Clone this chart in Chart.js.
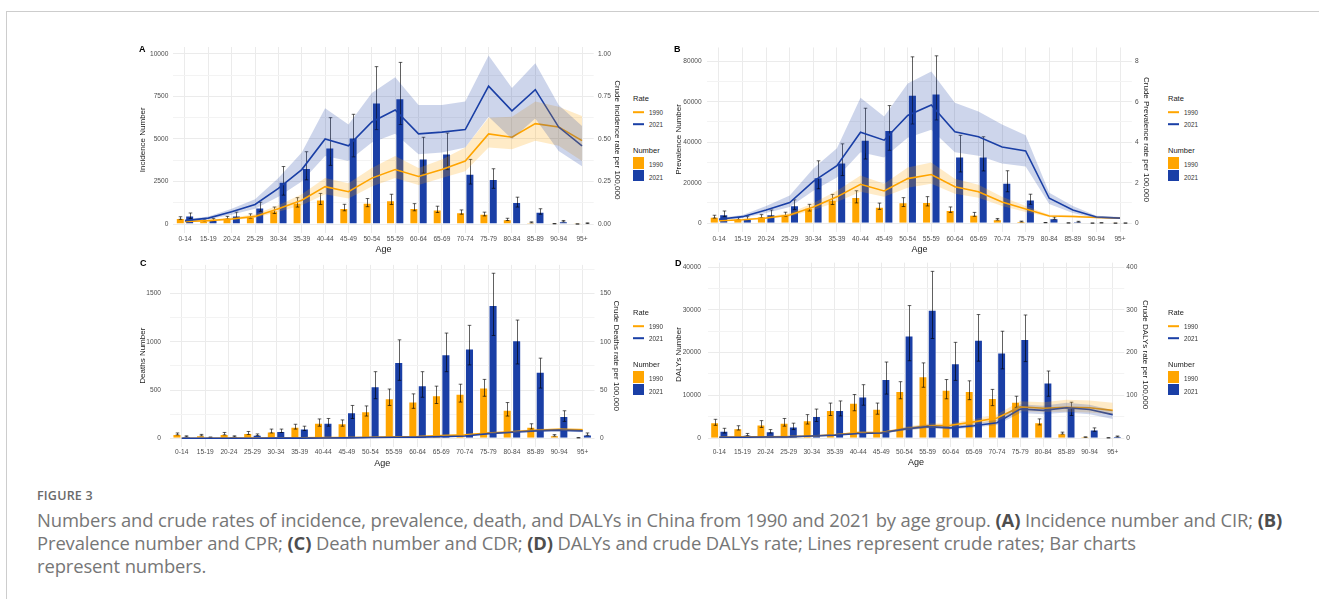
<!DOCTYPE html>
<html>
<head>
<meta charset="utf-8">
<title>Numbers and crude rates by age group</title>
<script src="https://cdn.jsdelivr.net/npm/chart.js@4.4.1/dist/chart.umd.min.js"></script>
<style>
  html, body { margin: 0; padding: 0; background: #fff; }
  body { width: 1319px; height: 599px; position: relative; overflow: hidden; font-family: "Liberation Sans", Arial, sans-serif; }
  .rule-top { position: absolute; left: 6px; top: 11px; width: 1313px; height: 1px; background: #cdcdcd; }
  .rule-left { position: absolute; left: 6px; top: 11px; width: 1px; height: 588px; background: #cdcdcd; }
  canvas { position: absolute; }
  .tag { position: absolute; font-weight: bold; font-size: 9px; line-height: 9px; color: #000; transform: translateY(-50%); }
  .lg { position: absolute; }
  .lg .hd { position: absolute; left: 0; font-size: 7.5px; line-height: 8px; color: #1a1a1a; transform: translateY(-50%); white-space: nowrap; }
  .lg .tx { position: absolute; font-size: 6.3px; line-height: 7px; color: #333; transform: translateY(-50%); white-space: nowrap; }
  .lg .ln { position: absolute; left: 0; width: 11px; height: 1.6px; transform: translateY(-50%); }
  .lg .sq { position: absolute; left: 0; width: 11.3px; height: 11.4px; }
  .figno { position: absolute; left: 37px; top: 487px; font-family: "Open Sans", "Noto Sans", sans-serif; font-size: 12.5px; font-weight: 600; letter-spacing: 0.2px; color: #6a6a6a; }
  .caption { position: absolute; left: 37px; top: 508px; width: 1275px; font-family: "Open Sans", "Noto Sans", sans-serif; font-size: 18.4px; line-height: 23px; color: #767676; white-space: nowrap; letter-spacing: -0.1px; }
  .caption b { color: #4e4e4e; font-weight: 700; }
</style>
</head>
<body>
<div class="rule-top"></div>
<div class="rule-left"></div>

<script>
// ---- categories ----
const ageGroups = ['0-14','15-19','20-24','25-29','30-34','35-39','40-44','45-49','50-54','55-59','60-64','65-69','70-74','75-79','80-84','85-89','90-94','95+'];
const years = ['1990', '2021'];

// ---- (A) incidence ----
const incidence1990   = [350, 210, 370, 450, 800, 1250, 1450, 950, 1250, 1400, 950, 850, 700, 600, 280, 100, 20, 5];
const incidence1990Lo = [280, 165, 300, 350, 620, 1000, 1150, 780, 1020, 1150, 780, 680, 580, 480, 210, 75, 12, 2];
const incidence1990Hi = [430, 250, 450, 600, 1000, 1550, 1800, 1160, 1500, 1750, 1200, 1050, 830, 700, 340, 130, 30, 8];
const incidence2021   = [500, 250, 500, 980, 2480, 3300, 4500, 5080, 7150, 7400, 3850, 4150, 2950, 2650, 1300, 730, 170, 50];
const incidence2021Lo = [330, 190, 370, 750, 1700, 2600, 3450, 3950, 5550, 5850, 3000, 3200, 2350, 2100, 1000, 580, 130, 30];
const incidence2021Hi = [650, 320, 700, 1280, 3380, 4250, 6250, 6450, 9250, 9500, 5100, 5350, 3800, 3250, 1580, 900, 210, 70];
const incRate1990   = [0.015, 0.02, 0.03, 0.045, 0.09, 0.14, 0.22, 0.19, 0.27, 0.32, 0.28, 0.32, 0.37, 0.53, 0.51, 0.59, 0.57, 0.49];
const incRate1990Lo = [0.011, 0.015, 0.024, 0.036, 0.072, 0.11, 0.175, 0.15, 0.22, 0.27, 0.23, 0.27, 0.31, 0.45, 0.44, 0.49, 0.46, 0.37];
const incRate1990Hi = [0.02, 0.026, 0.038, 0.057, 0.11, 0.175, 0.27, 0.24, 0.33, 0.40, 0.33, 0.38, 0.45, 0.625, 0.63, 0.72, 0.69, 0.635];
const incRate2021   = [0.02, 0.035, 0.072, 0.115, 0.21, 0.32, 0.50, 0.46, 0.60, 0.67, 0.53, 0.54, 0.555, 0.81, 0.665, 0.79, 0.57, 0.46];
const incRate2021Lo = [0.015, 0.028, 0.055, 0.09, 0.16, 0.25, 0.40, 0.37, 0.48, 0.53, 0.41, 0.42, 0.45, 0.63, 0.50, 0.62, 0.43, 0.34];
const incRate2021Hi = [0.027, 0.045, 0.09, 0.146, 0.27, 0.42, 0.68, 0.585, 0.77, 0.863, 0.70, 0.70, 0.72, 0.99, 0.80, 0.945, 0.70, 0.576];

// ---- (B) prevalence ----
const prevalence1990   = [3100, 2200, 3300, 4100, 7600, 11500, 12900, 8100, 10300, 10400, 6500, 4200, 1900, 800, 250, 100, 20, 5];
const prevalence1990Lo = [2500, 1800, 2700, 3300, 6000, 9200, 10000, 6800, 8200, 8500, 5300, 3400, 1500, 600, 180, 70, 12, 2];
const prevalence1990Hi = [3900, 2700, 4200, 5400, 9300, 14200, 16000, 9900, 12600, 13100, 8000, 5300, 2300, 1000, 320, 130, 30, 8];
const prevalence2021   = [4400, 2200, 4400, 8900, 22700, 30000, 41200, 46000, 63500, 64100, 32900, 32900, 20000, 11700, 2400, 700, 150, 30];
const prevalence2021Lo = [3200, 1700, 3300, 6800, 17000, 23500, 31700, 36000, 49000, 51000, 25300, 25800, 15500, 9300, 1900, 500, 110, 20];
const prevalence2021Hi = [6000, 3200, 6500, 11500, 30800, 39200, 56800, 58100, 82200, 82700, 43400, 42700, 25900, 14300, 3000, 900, 190, 45];
const prevRate1990   = [0.12, 0.17, 0.25, 0.4, 0.8, 1.3, 1.92, 1.59, 2.2, 2.4, 1.8, 1.55, 1.05, 0.7, 0.35, 0.33, 0.28, 0.25];
const prevRate1990Lo = [0.1, 0.14, 0.2, 0.33, 0.65, 1.05, 1.55, 1.3, 1.75, 1.95, 1.45, 1.25, 0.85, 0.55, 0.3, 0.28, 0.24, 0.2];
const prevRate1990Hi = [0.15, 0.21, 0.31, 0.5, 1.0, 1.6, 2.35, 1.95, 2.75, 3.0, 2.2, 1.9, 1.3, 0.85, 0.42, 0.4, 0.32, 0.3];
const prevRate2021   = [0.19, 0.32, 0.65, 1.02, 2.06, 2.84, 4.49, 4.1, 5.32, 5.84, 4.51, 4.27, 3.76, 3.57, 1.23, 0.65, 0.3, 0.25];
const prevRate2021Lo = [0.15, 0.25, 0.5, 0.8, 1.6, 2.25, 3.5, 3.25, 4.22, 4.62, 3.5, 3.33, 2.95, 2.8, 0.95, 0.5, 0.24, 0.2];
const prevRate2021Hi = [0.25, 0.4, 0.85, 1.36, 2.7, 3.7, 6.2, 5.27, 6.9, 7.5, 5.95, 5.52, 4.87, 4.35, 1.5, 0.85, 0.37, 0.3];

// ---- (C) deaths ----
const deaths1990   = [45, 30, 45, 55, 70, 120, 160, 155, 280, 415, 380, 445, 460, 525, 295, 120, 30, 5];
const deaths1990Lo = [35, 25, 35, 40, 55, 95, 125, 125, 230, 340, 310, 360, 375, 435, 230, 95, 22, 3];
const deaths1990Hi = [55, 40, 60, 70, 95, 145, 200, 190, 335, 510, 460, 540, 560, 610, 370, 150, 38, 7];
const deaths2021   = [20, 10, 20, 35, 75, 100, 160, 270, 540, 790, 550, 870, 930, 1380, 1015, 690, 230, 40];
const deaths2021Lo = [15, 8, 15, 28, 60, 80, 125, 205, 410, 600, 425, 690, 760, 1065, 770, 520, 175, 30];
const deaths2021Hi = [25, 13, 25, 45, 95, 125, 205, 340, 690, 1020, 690, 1090, 1170, 1710, 1225, 830, 285, 55];
const deathRate1990   = [0.05, 0.05, 0.1, 0.15, 0.2, 0.4, 0.6, 0.7, 1.0, 1.6, 1.8, 2.8, 3.5, 5.5, 6.8, 8.3, 9.2, 8.8];
const deathRate1990Lo = [0.04, 0.04, 0.08, 0.12, 0.16, 0.32, 0.5, 0.58, 0.8, 1.3, 1.5, 2.3, 2.9, 4.6, 5.7, 7.0, 7.7, 7.2];
const deathRate1990Hi = [0.06, 0.06, 0.12, 0.18, 0.24, 0.48, 0.7, 0.82, 1.2, 1.9, 2.1, 3.3, 4.1, 6.4, 7.9, 9.6, 10.7, 10.4];
const deathRate2021   = [0.02, 0.02, 0.03, 0.05, 0.1, 0.15, 0.3, 0.4, 0.7, 1.0, 1.2, 1.7, 2.3, 4.8, 6.2, 7.6, 8.4, 7.6];
const deathRate2021Lo = [0.01, 0.01, 0.02, 0.04, 0.08, 0.12, 0.25, 0.32, 0.55, 0.8, 1.0, 1.4, 1.9, 4.1, 5.3, 6.5, 7.0, 6.1];
const deathRate2021Hi = [0.03, 0.03, 0.04, 0.06, 0.12, 0.18, 0.35, 0.48, 0.85, 1.2, 1.4, 2.0, 2.7, 5.6, 7.1, 8.7, 9.5, 8.9];

// ---- (D) DALYs ----
const dalys1990   = [3700, 2300, 3200, 3600, 4200, 6600, 8300, 6900, 11000, 14500, 11300, 11000, 9400, 8500, 3700, 1150, 250, 80];
const dalys1990Lo = [3000, 1900, 2500, 2800, 3300, 5300, 6400, 5600, 9200, 11900, 9200, 9000, 7600, 7200, 3100, 950, 200, 50];
const dalys1990Hi = [4400, 2900, 4100, 4600, 5500, 8200, 10200, 8200, 13200, 17600, 13700, 13400, 11400, 9800, 4500, 1400, 300, 100];
const dalys2021   = [1750, 800, 1600, 2700, 5150, 6600, 9750, 13850, 24000, 30000, 17500, 23000, 20000, 23200, 13000, 7100, 2000, 400];
const dalys2021Lo = [1200, 600, 1200, 2000, 3900, 5200, 7700, 10300, 18100, 23300, 13500, 18000, 16200, 17900, 9800, 5300, 1600, 300];
const dalys2021Hi = [2300, 1100, 2000, 3500, 6800, 8700, 12500, 17800, 31000, 39000, 22400, 28900, 25000, 28800, 15700, 8400, 2400, 500];
const dalyRate1990   = [2, 3, 3, 3.5, 5, 8, 13, 13, 22, 29, 30, 38, 47, 73, 70, 72, 71, 65];
const dalyRate1990Lo = [1.5, 2.5, 2.5, 3, 4, 6.5, 11, 11, 18, 24, 25, 32, 40, 63, 61, 62, 60, 55];
const dalyRate1990Hi = [2.5, 3.5, 3.5, 4.5, 6, 9.5, 15, 15, 26, 34, 35, 44, 55, 86, 84, 90, 88, 83];
const dalyRate2021   = [2, 2, 2.5, 3, 5, 7, 11, 12, 21, 27, 24, 29, 36, 68, 65, 71, 67, 55];
const dalyRate2021Lo = [1.5, 1.5, 2, 2.5, 4, 6, 9, 10, 18, 23, 20, 25, 31, 59, 56, 60, 56, 45];
const dalyRate2021Hi = [2.5, 2.5, 3, 3.5, 6, 8.5, 13, 14, 25, 32, 28, 34, 43, 79, 76, 83, 78, 65];

// ---- axis ticks ----
const incTicks = [0, 2500, 5000, 7500, 10000];
const incMinor = [1250, 3750, 6250, 8750];
const incRateTicks = [0, 0.25, 0.5, 0.75, 1.0];
const incRateLabels = ['0.00', '0.25', '0.50', '0.75', '1.00'];
const prevTicks = [0, 20000, 40000, 60000, 80000];
const prevMinor = [10000, 30000, 50000, 70000];
const prevRateTicks = [0, 2, 4, 6, 8];
const prevRateLabels = ['0', '2', '4', '6', '8'];
const deathTicks = [0, 500, 1000, 1500];
const deathMinor = [250, 750, 1250, 1750];
const deathRateTicks = [0, 50, 100, 150];
const deathRateLabels = ['0', '50', '100', '150'];
const dalyTicks = [0, 10000, 20000, 30000, 40000];
const dalyMinor = [5000, 15000, 25000, 35000];
const dalyRateTicks = [0, 100, 200, 300, 400];
const dalyRateLabels = ['0', '100', '200', '300', '400'];

// ---- styling ----
const ORANGE = '#FFA500';
const BLUE = '#1A3FA6';
const ORANGE_BAND = 'rgba(255,165,0,0.22)';
const BLUE_BAND = 'rgba(26,63,166,0.22)';
const TICK_COLOR = '#4d4d4d';
const GRID_MAJOR = '#ebebeb';
const GRID_MINOR = '#f3f3f3';
const FONT = '"Liberation Sans", Arial, sans-serif';

// error bars are drawn right after each bar dataset, using the chart's own y scale
const errorBarPlugin = {
  id: 'errorBars',
  afterDatasetDraw(chart, args) {
    const ds = chart.data.datasets[args.index];
    if (!ds.errLow) return;
    const ctx = chart.ctx;
    const y = chart.scales[ds.yAxisID || 'y'];
    const cap = 1.8;
    ctx.save();
    ctx.strokeStyle = 'rgba(0,0,0,0.62)';
    ctx.lineWidth = 1;
    args.meta.data.forEach((bar, i) => {
      const top = y.getPixelForValue(ds.errHigh[i]);
      const bot = y.getPixelForValue(ds.errLow[i]);
      const x = Math.round(bar.x) + 0.5;
      ctx.beginPath();
      ctx.moveTo(x, top); ctx.lineTo(x, bot);
      ctx.moveTo(x - cap, top); ctx.lineTo(x + cap, top);
      ctx.moveTo(x - cap, bot); ctx.lineTo(x + cap, bot);
      ctx.stroke();
    });
    ctx.restore();
  }
};

function buildPanel(p) {
  const c = p.canvas, g = p.geom;
  const cv = document.createElement('canvas');
  cv.width = c.w; cv.height = c.h;
  cv.style.left = c.x + 'px'; cv.style.top = c.y + 'px';
  cv.style.width = c.w + 'px'; cv.style.height = c.h + 'px';
  document.body.appendChild(cv);

  const vTitleSize = 8, xTitleSize = 9, tickSize = 6.6;
  const leftEdge = g.leftTitleX - vTitleSize * 0.6;
  const rightEdge = g.rightTitleX + vTitleSize * 0.6;
  const bottomEdge = g.xTitleY + xTitleSize * 0.6;
  const wl = g.left - leftEdge, wr = rightEdge - g.right, hx = bottomEdge - g.bottom;

  const yTicks = p.ticks.concat(p.minor).sort((a, b) => a - b);
  const bars = p.bars, rates = p.rates;

  // bar slots follow ascending "order": 1990 sits left of 2021
  const datasets = [
    { type: 'bar', label: years[0], data: bars[0].v, errLow: bars[0].lo, errHigh: bars[0].hi, yAxisID: 'y',
      backgroundColor: ORANGE, borderColor: 'rgba(255,255,255,0.35)', borderWidth: 1, order: 19,
      categoryPercentage: 0.8, barPercentage: 0.96 },
    { type: 'bar', label: years[1], data: bars[1].v, errLow: bars[1].lo, errHigh: bars[1].hi, yAxisID: 'y',
      backgroundColor: BLUE, borderColor: 'rgba(255,255,255,0.35)', borderWidth: 1, order: 20,
      categoryPercentage: 0.8, barPercentage: 0.96 },
    { type: 'line', label: years[0] + ' rate', data: rates[0].v, yAxisID: 'y1', borderColor: ORANGE, borderWidth: 1.6,
      pointRadius: 0, tension: 0, fill: false, order: 11 },
    { type: 'line', label: years[1] + ' rate', data: rates[1].v, yAxisID: 'y1', borderColor: BLUE, borderWidth: 1.6,
      pointRadius: 0, tension: 0, fill: false, order: 10 },
    { type: 'line', label: years[0] + ' lower', data: rates[0].lo, yAxisID: 'y1', borderWidth: 0, borderColor: 'rgba(0,0,0,0)',
      pointRadius: 0, tension: 0, fill: false, order: 6 },
    { type: 'line', label: years[0] + ' upper', data: rates[0].hi, yAxisID: 'y1', borderWidth: 0, borderColor: 'rgba(0,0,0,0)',
      pointRadius: 0, tension: 0, fill: '-1', backgroundColor: ORANGE_BAND, order: 5 },
    { type: 'line', label: years[1] + ' lower', data: rates[1].lo, yAxisID: 'y1', borderWidth: 0, borderColor: 'rgba(0,0,0,0)',
      pointRadius: 0, tension: 0, fill: false, order: 4 },
    { type: 'line', label: years[1] + ' upper', data: rates[1].hi, yAxisID: 'y1', borderWidth: 0, borderColor: 'rgba(0,0,0,0)',
      pointRadius: 0, tension: 0, fill: '-1', backgroundColor: BLUE_BAND, order: 3 }
  ];

  new Chart(cv, {
    type: 'bar',
    data: { labels: ageGroups, datasets },
    plugins: [errorBarPlugin],
    options: {
      responsive: false,
      animation: false,
      devicePixelRatio: 1,
      layout: { padding: { left: leftEdge - c.x, right: c.x + c.w - rightEdge, top: g.top - c.y, bottom: c.y + c.h - bottomEdge } },
      plugins: { legend: { display: false }, tooltip: { enabled: false } },
      scales: {
        x: {
          type: 'category', offset: true,
          grid: { offset: false, color: GRID_MAJOR, lineWidth: 1, drawTicks: false },
          border: { display: false },
          ticks: { font: { family: FONT, size: tickSize }, color: TICK_COLOR, padding: g.xTickPad, autoSkip: false, maxRotation: 0 },
          title: { display: true, text: 'Age', font: { family: FONT, size: xTitleSize }, color: '#1a1a1a', padding: 0 },
          afterFit(s) { s.height = hx; }
        },
        y: {
          type: 'linear', position: 'left', min: p.yMin, max: p.yMax,
          afterBuildTicks(s) { s.ticks = yTicks.map(v => ({ value: v })); },
          grid: {
            drawTicks: false,
            color: ctx => (ctx.tick && p.minor.includes(ctx.tick.value)) ? GRID_MINOR : GRID_MAJOR,
            lineWidth: 1
          },
          border: { display: false },
          ticks: {
            font: { family: FONT, size: tickSize }, color: TICK_COLOR, padding: g.leftTickPad, autoSkip: false,
            callback: v => p.ticks.includes(v) ? String(v) : ''
          },
          title: { display: true, text: p.leftTitle, font: { family: FONT, size: vTitleSize }, color: '#1a1a1a', padding: 0 },
          afterFit(s) { s.width = wl; }
        },
        y1: {
          type: 'linear', position: 'right', min: p.yMin / p.ratio, max: p.yMax / p.ratio,
          afterBuildTicks(s) { s.ticks = p.rightTicks.map(v => ({ value: v })); },
          grid: { drawOnChartArea: false, drawTicks: false },
          border: { display: false },
          ticks: {
            font: { family: FONT, size: tickSize }, color: TICK_COLOR, padding: g.rightTickPad, autoSkip: false,
            callback: (v, i) => p.rightLabels[i]
          },
          title: { display: true, text: p.rightTitle, font: { family: FONT, size: vTitleSize }, color: '#1a1a1a', padding: 0 },
          afterFit(s) { s.width = wr; }
        }
      }
    }
  });

  // panel letter
  const tag = document.createElement('div');
  tag.className = 'tag';
  tag.textContent = p.tag;
  tag.style.left = p.tagPos[0] + 'px';
  tag.style.top = p.tagPos[1] + 'px';
  document.body.appendChild(tag);

  // legend: Rate (lines) and Number (filled keys)
  const lg = document.createElement('div');
  lg.className = 'lg';
  lg.style.left = p.legendPos[0] + 'px';
  lg.style.top = p.legendPos[1] + 'px';
  const colors = [ORANGE, BLUE];
  let html = '<div class="hd" style="top:0px">Rate</div>';
  years.forEach((yr, i) => {
    const y = 13.3 + i * 12;
    html += `<div class="ln" style="top:${y}px;background:${colors[i]}"></div>`;
    html += `<div class="tx" style="left:16px;top:${y}px">${yr}</div>`;
  });
  html += '<div class="hd" style="top:51.7px">Number</div>';
  years.forEach((yr, i) => {
    const y = 58.3 + i * 12.8;
    html += `<div class="sq" style="top:${y}px;background:${colors[i]}"></div>`;
    html += `<div class="tx" style="left:16px;top:${y + 6.4}px">${yr}</div>`;
  });
  lg.innerHTML = html;
  document.body.appendChild(lg);
}

buildPanel({
  tag: 'A', tagPos: [139, 49],
  legendPos: [633, 99],
  canvas: { x: 130, y: 38, w: 495, h: 224 },
  geom: { left: 173.3, right: 593.7, top: 45, bottom: 232.5, leftTitleX: 143, rightTitleX: 617, xTitleY: 249.3,
          leftTickPad: 5, rightTickPad: 4.3, xTickPad: 3 },
  yMin: -496, yMax: 10407, ratio: 10000,
  ticks: incTicks, minor: incMinor, rightTicks: incRateTicks, rightLabels: incRateLabels,
  leftTitle: 'Incidence Number', rightTitle: 'Crude Incidence rate per 100,000',
  bars: [{ v: incidence1990, lo: incidence1990Lo, hi: incidence1990Hi }, { v: incidence2021, lo: incidence2021Lo, hi: incidence2021Hi }],
  rates: [{ v: incRate1990, lo: incRate1990Lo, hi: incRate1990Hi }, { v: incRate2021, lo: incRate2021Lo, hi: incRate2021Hi }]
});

buildPanel({
  tag: 'B', tagPos: [674, 49],
  legendPos: [1168, 99],
  canvas: { x: 660, y: 38, w: 500, h: 224 },
  geom: { left: 707.2, right: 1131.8, top: 45, bottom: 231.5, leftTitleX: 679, rightTitleX: 1146, xTitleY: 249.3,
          leftTickPad: 5.5, rightTickPad: 3.2, xTickPad: 3.5 },
  yMin: -4135, yMax: 86835, ratio: 10000,
  ticks: prevTicks, minor: prevMinor, rightTicks: prevRateTicks, rightLabels: prevRateLabels,
  leftTitle: 'Prevalence Number', rightTitle: 'Crude Prevalence rate per 100,000',
  bars: [{ v: prevalence1990, lo: prevalence1990Lo, hi: prevalence1990Hi }, { v: prevalence2021, lo: prevalence2021Lo, hi: prevalence2021Hi }],
  rates: [{ v: prevRate1990, lo: prevRate1990Lo, hi: prevRate1990Hi }, { v: prevRate2021, lo: prevRate2021Lo, hi: prevRate2021Hi }]
});

buildPanel({
  tag: 'C', tagPos: [140, 263.3],
  legendPos: [633, 313],
  canvas: { x: 130, y: 252, w: 495, h: 222 },
  geom: { left: 169.9, right: 594.5, top: 258.3, bottom: 446.5, leftTitleX: 142.8, rightTitleX: 616.7, xTitleY: 463.3,
          leftTickPad: 8.9, rightTickPad: 5.5, xTickPad: 1.8 },
  yMin: -85.5, yMax: 1797, ratio: 10,
  ticks: deathTicks, minor: deathMinor, rightTicks: deathRateTicks, rightLabels: deathRateLabels,
  leftTitle: 'Deaths Number', rightTitle: 'Crude Deaths rate per 100,000',
  bars: [{ v: deaths1990, lo: deaths1990Lo, hi: deaths1990Hi }, { v: deaths2021, lo: deaths2021Lo, hi: deaths2021Hi }],
  rates: [{ v: deathRate1990, lo: deathRate1990Lo, hi: deathRate1990Hi }, { v: deathRate2021, lo: deathRate2021Lo, hi: deathRate2021Hi }]
});

buildPanel({
  tag: 'D', tagPos: [675, 263.3],
  legendPos: [1168, 313],
  canvas: { x: 660, y: 252, w: 500, h: 222 },
  geom: { left: 707.7, right: 1124.3, top: 258.5, bottom: 446.5, leftTitleX: 679, rightTitleX: 1145, xTitleY: 462.3,
          leftTickPad: 6.7, rightTickPad: 2, xTickPad: 2.2 },
  yMin: -1954, yMax: 41036, ratio: 100,
  ticks: dalyTicks, minor: dalyMinor, rightTicks: dalyRateTicks, rightLabels: dalyRateLabels,
  leftTitle: 'DALYs Number', rightTitle: 'Crude DALYs rate per 100,000',
  bars: [{ v: dalys1990, lo: dalys1990Lo, hi: dalys1990Hi }, { v: dalys2021, lo: dalys2021Lo, hi: dalys2021Hi }],
  rates: [{ v: dalyRate1990, lo: dalyRate1990Lo, hi: dalyRate1990Hi }, { v: dalyRate2021, lo: dalyRate2021Lo, hi: dalyRate2021Hi }]
});
</script>

<div class="figno">FIGURE 3</div>
<div class="caption">Numbers and crude rates of incidence, prevalence, death, and DALYs in China from 1990 and 2021 by age group. <b>(A)</b> Incidence number and CIR; <b>(B)</b><br>Prevalence number and CPR; <b>(C)</b> Death number and CDR; <b>(D)</b> DALYs and crude DALYs rate; Lines represent crude rates; Bar charts<br>represent numbers.</div>
</body>
</html>
